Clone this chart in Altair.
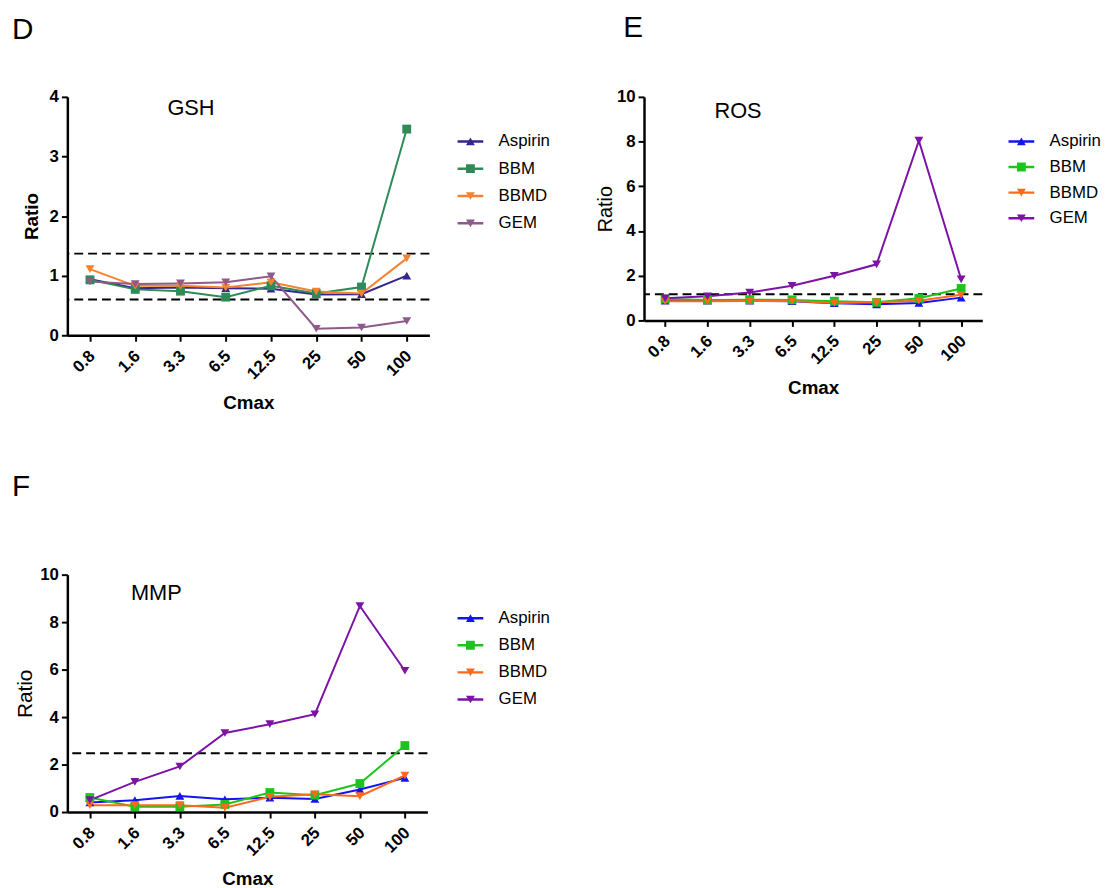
import altair as alt
import pandas as pd

FONT = "Liberation Sans"

cats = ["0.8", "1.6", "3.3", "6.5", "12.5", "25", "50", "100"]
series = ["Aspirin", "BBM", "BBMD", "GEM"]
shapes = ["triangle-up", "square", "triangle-down", "triangle-down"]

# Panel D - GSH
gsh_aspirin = [0.94, 0.79, 0.80, 0.79, 0.78, 0.685, 0.69, 1.00]
gsh_bbm = [0.93, 0.77, 0.74, 0.64, 0.83, 0.70, 0.81, 3.46]
gsh_bbmd = [1.11, 0.83, 0.83, 0.80, 0.89, 0.735, 0.70, 1.29]
gsh_gem = [0.90, 0.86, 0.87, 0.89, 0.99, 0.11, 0.13, 0.24]
gsh_refs = [1.37, 0.60]
gsh_colors = ["#35258C", "#2E8B57", "#F5822F", "#8E5A8A"]

# Panel E - ROS
ros_aspirin = [0.88, 0.88, 0.88, 0.86, 0.77, 0.72, 0.78, 1.02]
ros_bbm = [0.96, 0.92, 0.93, 0.92, 0.86, 0.81, 0.99, 1.43]
ros_bbmd = [0.86, 0.86, 0.87, 0.87, 0.78, 0.81, 0.88, 1.15]
ros_gem = [0.99, 1.08, 1.25, 1.55, 2.00, 2.51, 8.04, 1.84]
ros_refs = [1.17]

# Panel F - MMP
mmp_aspirin = [0.40, 0.50, 0.68, 0.54, 0.60, 0.55, 0.95, 1.44]
mmp_bbm = [0.61, 0.22, 0.22, 0.32, 0.82, 0.71, 1.20, 2.80]
mmp_bbmd = [0.29, 0.29, 0.29, 0.18, 0.64, 0.75, 0.67, 1.54]
mmp_gem = [0.50, 1.27, 1.92, 3.33, 3.70, 4.12, 8.68, 5.95]
mmp_refs = [2.48]

ef_colors = ["#1414F0", "#1DC41D", "#FF6A1A", "#7D12A6"]


def long_df(vals):
    rows = []
    for s, v in zip(series, vals):
        for c, y in zip(cats, v):
            rows.append({"Cmax": c, "series": s, "value": y})
    return pd.DataFrame(rows)


def panel(vals, colors, refs, letter, label, ymax, yvals, w, h,
          leg_x, leg_y, row_pad, label_xy, ratio_bold, ratio_size, ratio_pad,
          title_dx, title_offset):
    df = long_df(vals)
    base = alt.Chart(df)
    x = alt.X("Cmax:N", sort=cats,
              scale=alt.Scale(type="point", padding=0.5),
              axis=alt.Axis(title="Cmax", labelAngle=-45, labelAlign="right",
                            labelBaseline="middle", labelPadding=12, labelOffset=2,
                            titleFontSize=19, titleFontWeight="bold", titlePadding=11.5))
    y = alt.Y("value:Q", scale=alt.Scale(domain=[0, ymax], nice=False, zero=True),
              axis=alt.Axis(title="Ratio", values=yvals, format="d",
                            titleFontSize=ratio_size,
                            titleFontWeight="bold" if ratio_bold else "normal",
                            titlePadding=ratio_pad))
    cscale = alt.Scale(domain=series, range=colors)
    sscale = alt.Scale(domain=series, range=shapes)

    line_leg = alt.Legend(orient="none", legendX=leg_x, legendY=leg_y, title=None,
                          symbolType="stroke", symbolSize=676, symbolStrokeWidth=2.5,
                          labelFontSize=17, labelFont=FONT, labelColor="black",
                          labelOffset=14, rowPadding=row_pad, padding=0, clipHeight=20)
    pt_leg = alt.Legend(orient="none", legendX=leg_x + 6, legendY=leg_y, title=None,
                        symbolSize=80, symbolStrokeWidth=0, symbolOpacity=1,
                        labelFontSize=17, labelFont=FONT, labelExpr="''",
                        labelOffset=14, rowPadding=row_pad, padding=0, clipHeight=20)

    rules = alt.Chart(pd.DataFrame({"ref": refs})).mark_rule(
        strokeDash=[9, 5], strokeWidth=2, color="black").encode(y="ref:Q")
    lines = base.mark_line(strokeWidth=2).encode(
        x=x, y=y, color=alt.Color("series:N", scale=cscale, legend=line_leg),
        detail="series:N")
    pts = base.mark_point(filled=True, size=80, opacity=1).encode(
        x=x, y=y,
        color=alt.Color("series:N", scale=cscale, legend=pt_leg),
        shape=alt.Shape("series:N", scale=sscale, legend=pt_leg))
    txt = alt.Chart(pd.DataFrame({"t": [label]})).mark_text(
        fontSize=22, font=FONT, align="center", baseline="middle", color="black").encode(
        text="t:N", x=alt.value(label_xy[0]), y=alt.value(label_xy[1]))

    return alt.layer(rules, lines, pts, txt).resolve_legend(
        color="independent", shape="independent").properties(
        width=w, height=h,
        title=alt.TitleParams(letter, anchor="start", frame="group", dx=title_dx,
                              offset=title_offset, fontSize=30, fontWeight="normal",
                              font=FONT, color="black"))


D = panel([gsh_aspirin, gsh_bbm, gsh_bbmd, gsh_gem], gsh_colors, gsh_refs, "D", "GSH",
          4, [0, 1, 2, 3, 4], 366, 241, 393, 35, 7.6, (125, 11), True, 19, 8, -56, 44)
E = panel([ros_aspirin, ros_bbm, ros_bbmd, ros_gem], ef_colors, ros_refs, "E", "ROS",
          10, [0, 2, 4, 6, 8, 10], 342, 226, 367, 35, 5.9, (95, 14), False, 20, 1, -21, 46)
F = panel([mmp_aspirin, mmp_bbm, mmp_bbmd, mmp_gem], ef_colors, mmp_refs, "F", "MMP",
          10, [0, 2, 4, 6, 8, 10], 364, 240, 393, 34, 7.4, (90, 19), False, 21, 4, -56, 65)

top = alt.hconcat(D, E, spacing=217, bounds="flush").resolve_scale(
    color="independent", shape="independent", x="independent", y="independent")
chart = alt.vconcat(top, F, spacing=483, bounds="flush").resolve_scale(
    color="independent", shape="independent", x="independent", y="independent"
).properties(padding={"left": 4, "top": 0, "right": 0, "bottom": 0}
).configure_view(stroke=None).configure_axis(
    domainColor="black", domainWidth=2.5, tickColor="black", tickWidth=2, tickSize=6,
    labelFont=FONT, labelFontSize=17, labelFontWeight="bold", labelColor="black",
    titleFont=FONT, titleColor="black", grid=False
).configure_axisY(labelPadding=3)

chart.save("out.html", embed_options={"renderer": "svg", "actions": False})
